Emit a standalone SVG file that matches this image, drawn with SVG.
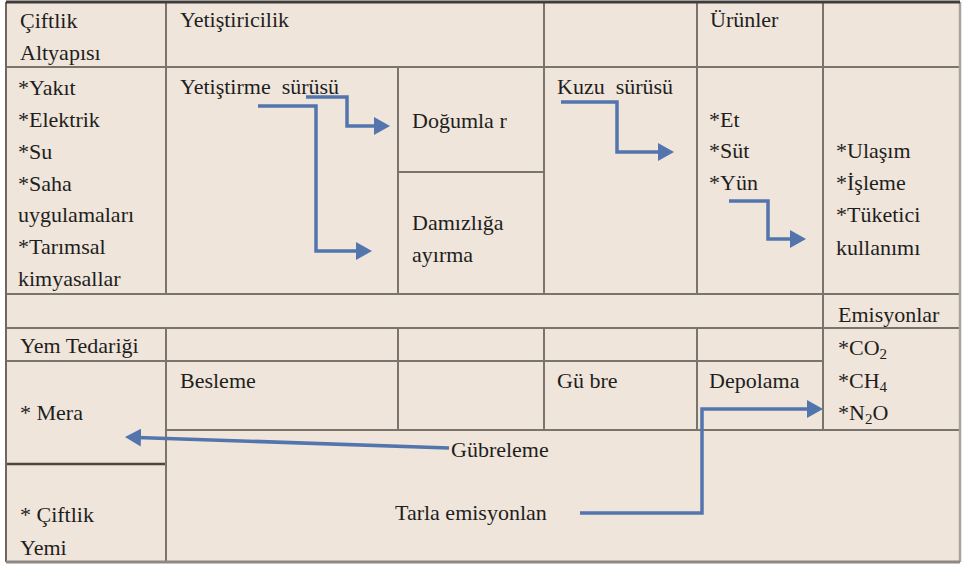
<svg xmlns="http://www.w3.org/2000/svg" width="962" height="564" viewBox="0 0 962 564">
  <style>
    .grid { stroke: #7b746c; stroke-width: 2; fill: none; }
    .flow { stroke: #5375ad; stroke-width: 3.5; fill: none; marker-end: url(#head); }
    text { font-family: "Liberation Serif", serif; }
  </style>
  <defs>
    <marker id="head" viewBox="0 0 16 18" markerWidth="16" markerHeight="18" refX="4" refY="9" orient="auto" markerUnits="userSpaceOnUse">
      <path d="M0,0 L16,9 L0,18 z" fill="#5375ad"/>
    </marker>
  </defs>

  <rect width="962" height="564" fill="#ffffff"/>
  <!-- table body -->
  <rect x="6" y="2" width="954" height="560" fill="#efe5da"/>

  <!-- table rules -->
  <g id="grid" class="grid">
    <path d="M6,67 H960 M398,172 H544 M6,294 H960 M6,328 H960 M6,361 H823 M166,430 H960"/>
    <path d="M6,464 H166" stroke="#4a4642" stroke-width="2.5"/>
    <path d="M166,2 V294 M166,328 V562 M398,67 V294 M398,328 V430 M544,2 V294 M544,328 V430 M697,2 V294 M697,328 V430 M823,2 V430"/>
    <path d="M6,2 V562" stroke="#6e6862"/>
    <path d="M960,2 V562" stroke="#a9a39c" stroke-width="2.5"/>
    <path d="M6,2 H960" stroke="#3f3c39" stroke-width="3"/>
    <path d="M6,562 H960" stroke="#8e8882" stroke-width="3"/>
  </g>

  <g id="labels" font-size="22" fill="#1e1e1e">
  <g id="ciftlik-altyapisi">
    <text x="20" y="28">Çiftlik</text>
    <text x="20" y="60">Altyapısı</text>
  </g>
  <g id="yetistiricilik">
    <text x="180" y="27">Yetiştiricilik</text>
  </g>
  <g id="urunler">
    <text x="710" y="27">Ürünler</text>
  </g>
  <g id="altyapi-listesi">
    <text x="18" y="95">*Yakıt</text>
    <text x="18" y="127">*Elektrik</text>
    <text x="18" y="159">*Su</text>
    <text x="18" y="191">*Saha</text>
    <text x="18" y="222">uygulamaları</text>
    <text x="18" y="254">*Tarımsal</text>
    <text x="18" y="286">kimyasallar</text>
  </g>
  <g id="yetistirme-surusu">
    <text x="180" y="94" xml:space="preserve">Yetiştirme  sürüsü</text>
  </g>
  <g id="dogumlar">
    <text x="412" y="128">Doğumla r</text>
  </g>
  <g id="damizliga-ayirma">
    <text x="412" y="230">Damızlığa</text>
    <text x="412" y="262">ayırma</text>
  </g>
  <g id="kuzu-surusu">
    <text x="557" y="94" xml:space="preserve">Kuzu  sürüsü</text>
  </g>
  <g id="urun-listesi">
    <text x="709" y="127">*Et</text>
    <text x="709" y="158">*Süt</text>
    <text x="709" y="190">*Yün</text>
  </g>
  <g id="kullanim">
    <text x="836" y="158">*Ulaşım</text>
    <text x="836" y="190">*İşleme</text>
    <text x="836" y="222">*Tüketici</text>
    <text x="836" y="255">kullanımı</text>
  </g>
  <g id="emisyonlar">
    <text x="838" y="322">Emisyonlar</text>
    <text x="838" y="355">*CO<tspan font-size="15" dy="4">2</tspan></text>
    <text x="838" y="388">*CH<tspan font-size="15" dy="4">4</tspan></text>
    <text x="838" y="420">*N<tspan font-size="15" dy="4">2</tspan><tspan dy="-4">O</tspan></text>
  </g>
  <g id="yem-tedarigi">
    <text x="20" y="353">Yem Tedariği</text>
  </g>
  <g id="besleme">
    <text x="180" y="388">Besleme</text>
  </g>
  <g id="gubre">
    <text x="557" y="388">Gü bre</text>
  </g>
  <g id="depolama">
    <text x="709" y="388">Depolama</text>
  </g>
  <g id="mera">
    <text x="20" y="420">* Mera</text>
  </g>
  <g id="ciftlik-yemi">
    <text x="20" y="522">* Çiftlik</text>
    <text x="20" y="555">Yemi</text>
  </g>
  <g id="gubreleme">
    <text x="451" y="457">Gübreleme</text>
  </g>
  <g id="tarla-emisyonlari">
    <text x="395" y="520">Tarla emisyonlan</text>
  </g>
  </g>

  <!-- flow connectors -->
  <g id="connectors">
    <path class="flow" d="M306,97 H347 V126 H378"/>
    <path class="flow" d="M258,106 H316 V251 H360"/>
    <path class="flow" d="M561,102 H617 V152 H662"/>
    <path class="flow" d="M729,201 H768 V239 H794"/>
    <path class="flow" d="M449,448 L137,437.4"/>
    <path class="flow" d="M580,513 H702 V409 H811"/>
  </g>
</svg>
